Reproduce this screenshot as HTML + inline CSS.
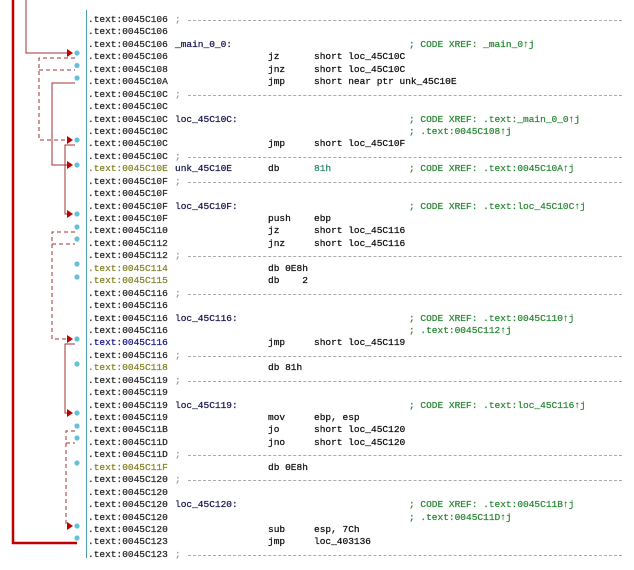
<!DOCTYPE html>
<html><head><meta charset="utf-8"><style>
html,body{margin:0;padding:0;background:#fff;width:634px;height:570px;overflow:hidden;position:relative}
#code{position:absolute;left:0;top:14px;width:634px;font-family:"Liberation Mono",monospace;font-size:9.5px;color:#111;-webkit-text-stroke:0.25px currentColor}
.l{position:relative;height:12.45px;line-height:12.45px;white-space:pre}
.l span{position:absolute;top:0}
.a{left:88px;color:#2a2a2a}
.d .a{color:#858528}
.b .a{color:#1a1a90}
.lb{left:175px;color:#1a1a50}
.m{left:268px}
.o{left:314px}
.c{left:409px;color:#2f8a3a}
.n{color:#2f8a6a}
.s{left:175px;color:#999}
.dash{position:absolute;left:188px;width:434px;top:6px;border-top:1px dashed #aaa;height:0}
svg{position:absolute;left:0;top:0}
</style></head><body>
<svg width="634" height="570">
<line x1="86.5" y1="10" x2="86.5" y2="558" stroke="#4aa0b0" stroke-width="1"/>
<g fill="#66c0d8">
<circle cx="77" cy="53" r="2.6"/><circle cx="77" cy="65.5" r="2.6"/><circle cx="77" cy="78" r="2.6"/>
<circle cx="77" cy="140" r="2.6"/><circle cx="77" cy="165" r="2.6"/><circle cx="77" cy="214" r="2.6"/>
<circle cx="77" cy="227" r="2.6"/><circle cx="77" cy="239" r="2.6"/><circle cx="77" cy="264" r="2.6"/>
<circle cx="77" cy="277" r="2.6"/><circle cx="77" cy="339" r="2.6"/><circle cx="77" cy="364" r="2.6"/>
<circle cx="77" cy="413" r="2.6"/><circle cx="77" cy="426" r="2.6"/><circle cx="77" cy="438" r="2.6"/>
<circle cx="77" cy="463" r="2.6"/><circle cx="77" cy="526" r="2.6"/><circle cx="77" cy="538" r="2.6"/>
</g>
<polyline points="13,0 13,543 77,543" fill="none" stroke="#c00000" stroke-width="2.5"/>
<g fill="none" stroke="#a03030" stroke-width="1">
<polyline points="26,0 26,53 68,53"/>
<polyline points="75,83 52,83 52,165 68,165"/>
<polyline points="75,145 65,145 65,214 68,214"/>
<polyline points="75,344 65,344 65,413 68,413"/>
</g>
<g fill="none" stroke="#a03030" stroke-width="1" stroke-dasharray="4,3">
<polyline points="75,58 39,58 39,140 68,140"/>
<line x1="39" y1="70" x2="75" y2="70"/>
<polyline points="75,232 52,232 52,339 68,339"/>
<line x1="52" y1="244" x2="75" y2="244"/>
<polyline points="75,431 66,431 66,526 68,526"/>
<line x1="66" y1="443" x2="75" y2="443"/>
</g>
<g fill="#c00000">
<polygon points="67,49 73,53 67,57"/><polygon points="67,136 73,140 67,144"/>
<polygon points="67,161 73,165 67,169"/><polygon points="67,210 73,214 67,218"/>
<polygon points="67,335 73,339 67,343"/><polygon points="67,409 73,413 67,417"/>
<polygon points="67,522 73,526 67,530"/>
</g>
</svg>
<div id="code">
<div class="l"><span class="a">.text:0045C106</span><span class="s">;</span><i class="dash"></i></div>
<div class="l"><span class="a">.text:0045C106</span></div>
<div class="l"><span class="a">.text:0045C106</span><span class="lb">_main_0_0:</span><span class="c">; CODE XREF: _main_0↑j</span></div>
<div class="l"><span class="a">.text:0045C106</span><span class="m">jz</span><span class="o">short loc_45C10C</span></div>
<div class="l"><span class="a">.text:0045C108</span><span class="m">jnz</span><span class="o">short loc_45C10C</span></div>
<div class="l"><span class="a">.text:0045C10A</span><span class="m">jmp</span><span class="o">short near ptr unk_45C10E</span></div>
<div class="l"><span class="a">.text:0045C10C</span><span class="s">;</span><i class="dash"></i></div>
<div class="l"><span class="a">.text:0045C10C</span></div>
<div class="l"><span class="a">.text:0045C10C</span><span class="lb">loc_45C10C:</span><span class="c">; CODE XREF: .text:_main_0_0↑j</span></div>
<div class="l"><span class="a">.text:0045C10C</span><span class="c">; .text:0045C108↑j</span></div>
<div class="l"><span class="a">.text:0045C10C</span><span class="m">jmp</span><span class="o">short loc_45C10F</span></div>
<div class="l"><span class="a">.text:0045C10C</span><span class="s">;</span><i class="dash"></i></div>
<div class="l d"><span class="a">.text:0045C10E</span><span class="lb">unk_45C10E</span><span class="m">db</span><span class="o n">81h</span><span class="c">; CODE XREF: .text:0045C10A↑j</span></div>
<div class="l"><span class="a">.text:0045C10F</span><span class="s">;</span><i class="dash"></i></div>
<div class="l"><span class="a">.text:0045C10F</span></div>
<div class="l"><span class="a">.text:0045C10F</span><span class="lb">loc_45C10F:</span><span class="c">; CODE XREF: .text:loc_45C10C↑j</span></div>
<div class="l"><span class="a">.text:0045C10F</span><span class="m">push</span><span class="o">ebp</span></div>
<div class="l"><span class="a">.text:0045C110</span><span class="m">jz</span><span class="o">short loc_45C116</span></div>
<div class="l"><span class="a">.text:0045C112</span><span class="m">jnz</span><span class="o">short loc_45C116</span></div>
<div class="l"><span class="a">.text:0045C112</span><span class="s">;</span><i class="dash"></i></div>
<div class="l d"><span class="a">.text:0045C114</span><span class="m">db 0E8h</span></div>
<div class="l d"><span class="a">.text:0045C115</span><span class="m">db    2</span></div>
<div class="l"><span class="a">.text:0045C116</span><span class="s">;</span><i class="dash"></i></div>
<div class="l"><span class="a">.text:0045C116</span></div>
<div class="l"><span class="a">.text:0045C116</span><span class="lb">loc_45C116:</span><span class="c">; CODE XREF: .text:0045C110↑j</span></div>
<div class="l"><span class="a">.text:0045C116</span><span class="c">; .text:0045C112↑j</span></div>
<div class="l b"><span class="a">.text:0045C116</span><span class="m">jmp</span><span class="o">short loc_45C119</span></div>
<div class="l"><span class="a">.text:0045C116</span><span class="s">;</span><i class="dash"></i></div>
<div class="l d"><span class="a">.text:0045C118</span><span class="m">db 81h</span></div>
<div class="l"><span class="a">.text:0045C119</span><span class="s">;</span><i class="dash"></i></div>
<div class="l"><span class="a">.text:0045C119</span></div>
<div class="l"><span class="a">.text:0045C119</span><span class="lb">loc_45C119:</span><span class="c">; CODE XREF: .text:loc_45C116↑j</span></div>
<div class="l"><span class="a">.text:0045C119</span><span class="m">mov</span><span class="o">ebp, esp</span></div>
<div class="l"><span class="a">.text:0045C11B</span><span class="m">jo</span><span class="o">short loc_45C120</span></div>
<div class="l"><span class="a">.text:0045C11D</span><span class="m">jno</span><span class="o">short loc_45C120</span></div>
<div class="l"><span class="a">.text:0045C11D</span><span class="s">;</span><i class="dash"></i></div>
<div class="l d"><span class="a">.text:0045C11F</span><span class="m">db 0E8h</span></div>
<div class="l"><span class="a">.text:0045C120</span><span class="s">;</span><i class="dash"></i></div>
<div class="l"><span class="a">.text:0045C120</span></div>
<div class="l"><span class="a">.text:0045C120</span><span class="lb">loc_45C120:</span><span class="c">; CODE XREF: .text:0045C11B↑j</span></div>
<div class="l"><span class="a">.text:0045C120</span><span class="c">; .text:0045C11D↑j</span></div>
<div class="l"><span class="a">.text:0045C120</span><span class="m">sub</span><span class="o">esp, 7Ch</span></div>
<div class="l"><span class="a">.text:0045C123</span><span class="m">jmp</span><span class="o">loc_403136</span></div>
<div class="l"><span class="a">.text:0045C123</span><span class="s">;</span><i class="dash"></i></div>
</div>
</body></html>
